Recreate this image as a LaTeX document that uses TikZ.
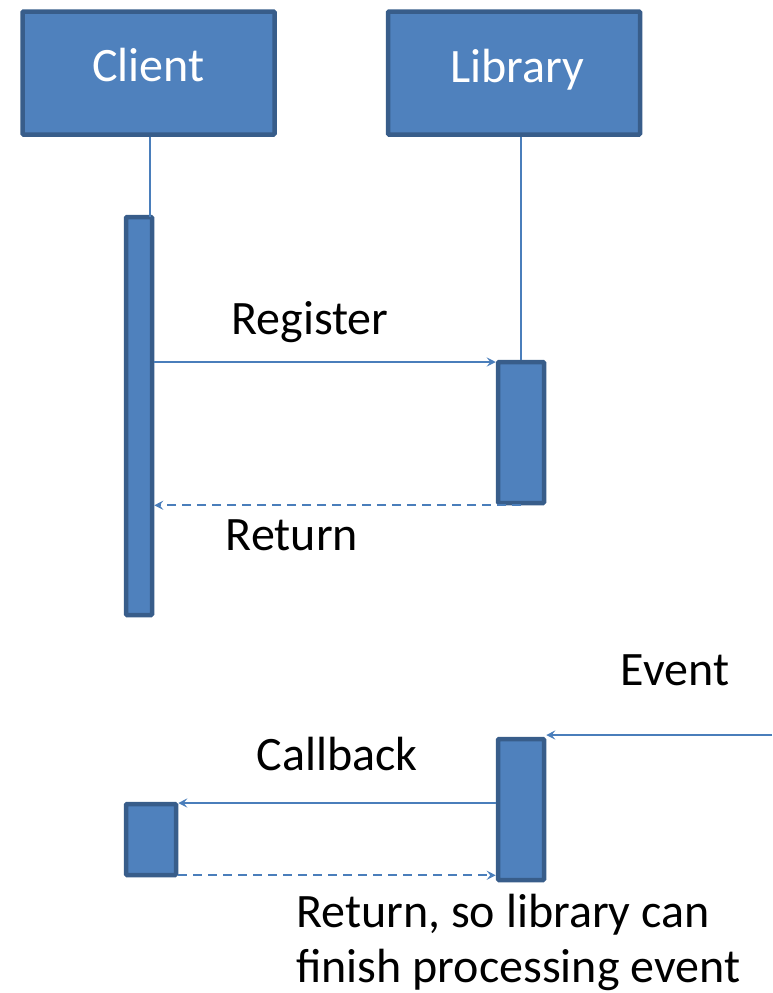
\documentclass[tikz,border=0pt]{standalone}
\usepackage{fontspec}
\setmainfont{Carlito}
\usetikzlibrary{arrows.meta, positioning}
\definecolor{boxFill}{RGB}{79,129,189}
\definecolor{boxEdge}{RGB}{56,93,138}
\definecolor{msgColor}{RGB}{74,126,187}

\begin{document}
\begin{tikzpicture}[
        x=1pt, y=-1pt,
        actor/.style={rectangle, draw=boxEdge, fill=boxFill, line width=4.5pt, rounded corners=1pt, minimum width=252pt, minimum height=123pt},
        actorname/.style={anchor=base, text=white, font=\fontsize{48}{57}\selectfont},
        activation/.style={rectangle, draw=boxEdge, fill=boxFill, line width=4.5pt, rounded corners=1pt, inner sep=0pt},
        lifeline/.style={draw=msgColor, line width=1.8pt},
        msg/.style={-{Stealth[length=9pt, width=9pt, inset=3.5pt]}, draw=msgColor, line width=1.6pt},
        reply/.style={msg, line width=2pt, dash pattern=on 9pt off 6pt},
        label/.style={anchor=base, font=\fontsize{48}{57}\selectfont}
    ]
        \useasboundingbox (0,0) rectangle (772,993);

        % Participants
        \node[actor] (client) at (148.5,73) {};
        \node[actor] (library) at (514,73) {};
        \node[actorname] (clientname) at (client.center |- 0,81) {Client};
        \node[actorname] (libraryname) at (517,82) {Library};

        % Registration
        \node[activation, minimum width=26pt, minimum height=398pt] (cact) at (139,416) {};
        \node[activation, minimum width=46pt, minimum height=141pt] (lact) at (521,432.5) {};
        \coordinate (cbox) at ([xshift=1.5pt]client.south);
        \draw[lifeline] (cbox) -- ([yshift=-2pt]cbox |- cact.north);
        \draw[lifeline] (library.south -| lact.north) -- (lact.north);
        \draw[msg] (cact.east |- 0,362) -- (lact.west |- 0,362);
        \draw[reply] (lact.south) -- (cact.east |- lact.south);
        \node[label] (register) at (310,334) {Register};
        \node[label] (return) at (292,550) {Return};

        % Event handling
        \coordinate (eventsrc) at (772,735);
        \node[activation, minimum width=46pt, minimum height=141pt] (lcall) at (521,809.5) {};
        \node[activation, minimum width=50pt, minimum height=71pt] (ccall) at (151,839.5) {};
        \draw[msg] (eventsrc) -- (lcall.east |- eventsrc);
        \draw[msg] (lcall.west |- 0,803) -- (ccall.east |- 0,803);
        \draw[reply] (ccall.south east) ++(0,-2) coordinate (cret) -- (lcall.west |- cret);
        \node[label] (event) at (675,685) {Event};
        \node[label] (callback) at (337,770) {Callback};
        \node[anchor=north west, align=left, inner sep=0pt, font=\fontsize{48}{55}\selectfont] (done) at (296,894) {Return, so library can\\finish processing event};
    \end{tikzpicture}
\end{document}
